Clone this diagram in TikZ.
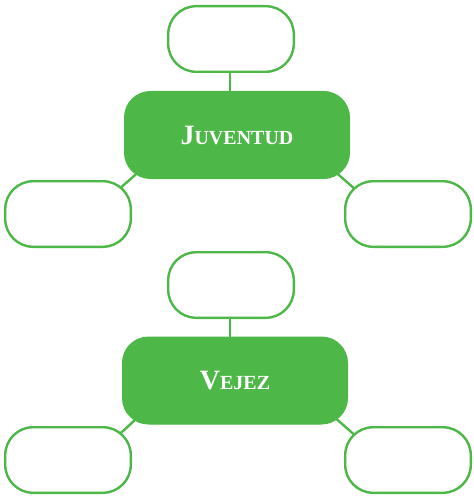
\documentclass[tikz,border=0pt]{standalone}
\usepackage{fontspec}
\setmainfont{Liberation Serif}
\definecolor{grn}{RGB}{77,184,72}
\begin{document}
\begin{tikzpicture}[x=1pt,y=-1pt,
  child/.style={draw=grn,line width=2.4pt,fill=white,rounded corners=28pt,minimum width=125.6pt,minimum height=65.6pt,inner sep=0pt},
  mainbox/.style={draw=grn,fill=grn,line width=1pt,rounded corners=26pt,minimum width=225pt,minimum height=87pt,inner sep=0pt,text=white,font=\bfseries},
  link/.style={draw=grn,line width=2.4pt}]
\useasboundingbox (0,0) rectangle (473,497);
% group 1
\coordinate (jc) at (237,135);
\coordinate (t1c) at (231,39);
\coordinate (l1c) at (68,214);
\coordinate (r1c) at (408,214);
\coordinate (jl) at (150,162);
\coordinate (jr) at (324,162);
\coordinate (l1k) at (110,197);
\coordinate (r1k) at (364,197);
\draw[link] (230,39) -- (230,135);
\draw[link] (jl) -- (l1k);
\draw[link] (jr) -- (r1k);
\node[mainbox] (juv) at (jc) {\fontsize{28}{28}\selectfont J\fontsize{20}{20}\selectfont UVENTUD};
\node[child] (t1) at (t1c) {};
\node[child] (l1) at (l1c) {};
\node[child] (r1) at (r1c) {};
% group 2
\coordinate (vc) at (235,380.5);
\coordinate (t2c) at (231,285);
\coordinate (l2c) at (68,460);
\coordinate (r2c) at (408,460);
\coordinate (vl) at (148,408);
\coordinate (vr) at (324,408);
\coordinate (l2k) at (110,443);
\coordinate (r2k) at (366,445);
\draw[link] (230,285) -- (230,380);
\draw[link] (vl) -- (l2k);
\draw[link] (vr) -- (r2k);
\node[mainbox] (vej) at (vc) {\fontsize{28}{28}\selectfont V\fontsize{20}{20}\selectfont EJEZ};
\node[child] (t2) at (t2c) {};
\node[child] (l2) at (l2c) {};
\node[child] (r2) at (r2c) {};
\end{tikzpicture}
\end{document}
